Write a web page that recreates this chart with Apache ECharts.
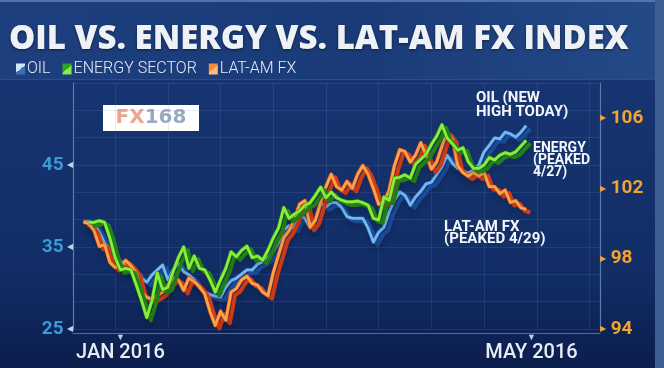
<!DOCTYPE html>
<html><head><meta charset="utf-8">
<script src="https://cdn.jsdelivr.net/npm/echarts@6/dist/echarts.min.js"></script>
<style>html,body{margin:0;padding:0;background:#102a62}#c{width:664px;height:368px}</style>
</head><body><div id="c"></div>
<script>
// ---- data ----
const slots = Array.from({length: 101}, (_, i) => 'd' + i);
const xTickLabels = [[9, 'JAN 2016'], [87, 'MAY 2016']];
const leftTicks = [25, 35, 45];
const rightTicks = [94, 98, 102, 106];
const seriesNames = ['OIL', 'ENERGY SECTOR', 'LAT-AM FX'];

const oil = [null, null,
  38.1, 38.1, 37.9, 36.8, 35.5, 34.6, 33.9, 33.2, 32.8, 32.4,
  32.0, 31.2, 30.7, 31.6, 32.2, 32.8, 31.0, 32.2, 33.0, 32.0,
  31.6, 31.0, 30.0, 29.5, 29.2, 29.0, 28.9, 30.1, 30.9, 31.2,
  31.7, 32.2, 32.2, 32.9, 33.2, 33.7, 34.4, 35.6, 37.1, 37.6,
  37.3, 38.9, 38.5, 37.3, 38.3, 40.4, 39.9, 40.4, 40.4, 39.8,
  38.7, 38.5, 38.5, 38.5, 37.3, 35.6, 36.8, 37.4, 39.3, 40.7,
  41.7, 41.3, 40.1, 41.1, 41.8, 42.7, 42.9, 43.8, 44.8, 46.2,
  45.2, 44.6, 44.3, 44.0, 44.4, 45.0, 46.6, 47.4, 48.3, 48.2,
  49.0, 48.8, 48.4, 49.0, 49.8];

const energy = [null, null, null,
  38.0, 38.0, 38.2, 38.0, 36.1, 33.7, 32.2, 32.4, 32.2,
  30.4, 28.5, 26.4, 28.5, 31.8, 29.8, 30.1, 32.0, 33.7, 35.0,
  32.4, 33.9, 32.4, 32.2, 31.0, 29.5, 31.0, 32.4, 34.4, 33.8,
  34.6, 35.1, 33.7, 33.9, 33.4, 34.6, 36.1, 37.3, 39.8, 38.5,
  39.0, 39.4, 40.1, 40.4, 41.3, 42.3, 41.0, 41.7, 41.0, 40.7,
  40.5, 40.5, 40.6, 40.4, 40.1, 38.5, 38.3, 41.1, 40.7, 43.4,
  43.5, 43.8, 43.4, 45.1, 45.7, 46.3, 47.5, 48.5, 49.9, 48.3,
  47.6, 46.8, 47.1, 45.4, 44.6, 44.6, 45.0, 45.9, 45.6, 46.2,
  46.5, 46.3, 46.6, 47.3, 48.0];

const latam = [null, null,
  100.1, 100.0, 99.6, 98.7, 98.8, 97.8, 97.5, 97.6, 97.9, 97.6,
  97.2, 96.1, 95.8, 95.7, 95.9, 96.1, 96.5, 96.9, 96.8, 96.2,
  96.9, 96.7, 96.4, 96.0, 95.0, 94.2, 95.0, 94.5, 96.1, 96.3,
  96.8, 97.0, 96.6, 96.5, 96.1, 95.9, 97.2, 98.2, 99.2, 99.6,
  100.2, 101.1, 101.3, 99.8, 100.2, 101.2, 102.1, 102.8, 102.1, 101.9,
  102.4, 102.0, 102.8, 103.3, 102.8, 102.0, 101.1, 101.2, 101.9, 103.3,
  104.2, 104.1, 103.5, 103.9, 104.6, 103.9, 103.1, 103.5, 104.4, 105.2,
  104.8, 103.3, 102.9, 102.7, 102.9, 102.7, 102.9, 102.1, 102.1, 101.7,
  101.9, 101.2, 101.3, 100.9, 100.8];

// ---- chart ----
const chart = echarts.init(document.getElementById('c'), null, {renderer: 'canvas'});
const xLabelMap = {};
xTickLabels.forEach(([i, t]) => { xLabelMap[i] = t; });

function diag(a, b) {
  return {type: 'linear', x: 0, y: 0, x2: 1, y2: 1,
    colorStops: [{offset: 0.5, color: a}, {offset: 0.5, color: b}]};
}

function pair(name, data, yIdx, bright, dark, legendColor, z) {
  return [
    {
      name: name + ' depth', type: 'line', data: data, yAxisIndex: yIdx,
      showSymbol: false, silent: true, z: z, animation: false,
      lineStyle: {color: dark, width: 4, join: 'round',
        shadowColor: dark, shadowBlur: 0, shadowOffsetX: 4, shadowOffsetY: 3}
    },
    {
      name: name, type: 'line', data: data, yAxisIndex: yIdx,
      showSymbol: false, z: z + 1, animation: false,
      itemStyle: {color: legendColor},
      lineStyle: {color: bright, width: 2.8, join: 'round',
        shadowColor: 'rgba(0,0,0,0.3)', shadowBlur: 6, shadowOffsetX: 3, shadowOffsetY: 7}
    }
  ];
}

const series = [].concat(
  pair(seriesNames[0], oil, 0, '#74b8ec', '#1d52a6', diag('#cfe6f8', '#3a70b8'), 2),
  pair(seriesNames[2], latam, 1, '#f8a548', '#e2401a', diag('#f58a3c', '#fbbf7a'), 4),
  pair(seriesNames[1], energy, 0, '#8cec3c', '#268a18', diag('#25a824', '#8be850'), 6)
);

const gridLine = {show: true, lineStyle: {color: 'rgba(110,150,215,0.16)', width: 1}};

chart.setOption({
  backgroundColor: {type: 'linear', x: 0, y: 0, x2: 0, y2: 1, colorStops: [
    {offset: 0, color: '#1a3b78'}, {offset: 0.25, color: '#163470'},
    {offset: 0.75, color: '#122d66'}, {offset: 1, color: '#0b1d4c'}]},
  animation: false,
  graphic: [
    {type: 'rect', left: 0, top: 0, z: -10, shape: {width: 664, height: 80},
      style: {fill: {type: 'linear', x: 0, y: 0, x2: 1, y2: 0, colorStops: [
        {offset: 0, color: '#1d3f7e'}, {offset: 0.55, color: '#1a3b78'}, {offset: 1, color: '#244a88'}]}}},
    {type: 'rect', left: 0, top: 0, z: -9, shape: {width: 664, height: 2}, style: {fill: '#4f74ad'}},
    {type: 'rect', left: 0, top: 79, z: -9, shape: {width: 664, height: 1}, style: {fill: '#2c4f8c'}},
    {type: 'rect', left: 655, top: 0, z: -8, shape: {width: 9, height: 368}, style: {fill: '#3e5f93'}},
    {type: 'group', left: 103, top: 105, z: 50, children: [
      {type: 'rect', shape: {width: 96, height: 26}, style: {fill: '#ffffff'}},
      {type: 'text', x: 48, y: 13, style: {
        text: '{a|FX}{b|168}', align: 'center', verticalAlign: 'middle', rich: {
          a: {fill: '#eba692', fontSize: 20, fontWeight: 'bold', fontFamily: 'DejaVu Sans'},
          b: {fill: '#98a9c0', fontSize: 20, fontWeight: 'bold', fontFamily: 'DejaVu Sans'}}}}
    ]},
    {type: 'text', left: 476, top: 91, z: 50, style: {text: 'OIL (NEW\nHIGH TODAY)',
      fill: '#f4f6fa', fontSize: 15, lineHeight: 14, fontWeight: 'bold',
      fontFamily: "'Liberation Sans Narrow', Roboto, sans-serif"}},
    {type: 'text', left: 533, top: 141, z: 50, style: {text: 'ENERGY\n(PEAKED\n4/27)',
      fill: '#f4f6fa', fontSize: 14, lineHeight: 12, fontWeight: 'bold',
      fontFamily: "'Liberation Sans Narrow', Roboto, sans-serif"}},
    {type: 'text', left: 444, top: 220, z: 50, style: {text: 'LAT-AM FX\n(PEAKED 4/29)',
      fill: '#f4f6fa', fontSize: 15, lineHeight: 12, fontWeight: 'bold',
      fontFamily: "'Liberation Sans Narrow', Roboto, sans-serif"}}
  ],
  title: {text: 'OIL VS. ENERGY VS. LAT-AM FX INDEX', left: 4, top: 18,
    textStyle: {color: '#eef2f7', fontSize: 33, fontWeight: 800, fontFamily: 'Open Sans',
      textShadowColor: 'rgba(0,0,0,0.5)', textShadowBlur: 3, textShadowOffsetY: 1}},
  legend: {data: seriesNames, left: 11, top: 56, icon: 'rect', itemWidth: 9, itemHeight: 11,
    itemGap: 12, selectedMode: false,
    textStyle: {color: '#e6ecf4', fontSize: 16, fontWeight: 300, fontFamily: 'Roboto', padding: [0, 0, 0, -3]}},
  grid: {left: 73, right: 64, top: 83, bottom: 39, containLabel: false},
  xAxis: {
    type: 'category', data: slots, boundaryGap: false, offset: 4,
    axisLine: {show: true, lineStyle: {color: '#4d6ea4', width: 1}},
    axisTick: {show: false},
    axisLabel: {interval: 0, margin: 0, formatter: (v, i) => xLabelMap[i] ? '{t|▼}\n{v|' + xLabelMap[i] + '}' : '',
      rich: {t: {fontSize: 9, lineHeight: 9, color: '#b9cfe9', align: 'center'},
        v: {fontSize: 20, lineHeight: 22, color: '#e8edf4', fontWeight: 500, fontFamily: 'Roboto', align: 'center'}}},
    splitLine: {show: true, interval: (i) => i % 10 === 8, lineStyle: gridLine.lineStyle}
  },
  yAxis: [
    {type: 'value', position: 'left', min: 25, max: 55, interval: 10,
      axisLine: {show: true, lineStyle: {color: '#5b7bb0', width: 1.2}},
      axisTick: {show: false},
      splitLine: gridLine,
      minorTick: {show: false, splitNumber: 3},
      minorSplitLine: gridLine,
      axisLabel: {margin: 0, showMaxLabel: false,
        formatter: (v) => leftTicks.indexOf(v) >= 0 ? '{v|' + v + '} {t|◀}' : '',
        rich: {v: {fontSize: 19, fontWeight: 'bold', color: '#3b9ad3', fontFamily: 'Roboto'},
          t: {fontSize: 8, color: '#bcd3ee'}}}},
    {type: 'value', position: 'right', min: 94, max: 108, interval: 4,
      axisLine: {show: true, lineStyle: {color: '#5b7bb0', width: 1.2}},
      axisTick: {show: false},
      splitLine: {show: false},
      axisLabel: {margin: 0, showMaxLabel: false,
        formatter: (v) => rightTicks.indexOf(v) >= 0 ? '{t|▶}{v| ' + v + '}' : '',
        rich: {v: {fontSize: 19, fontWeight: 'bold', color: '#f2a330', fontFamily: 'Roboto'},
          t: {fontSize: 8, color: '#f2a330'}}}}
  ],
  series: series
});
</script>
</body></html>
